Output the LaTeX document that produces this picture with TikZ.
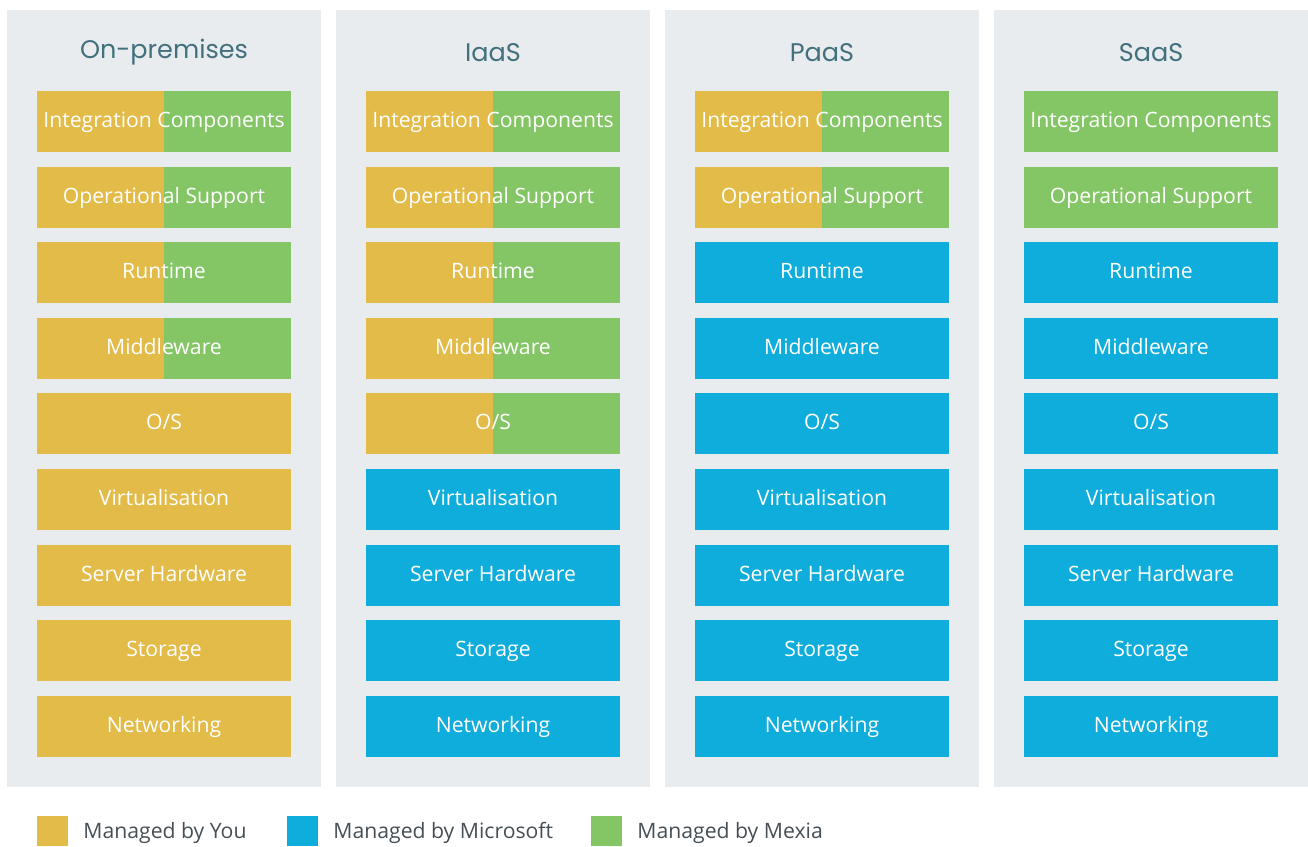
\documentclass[tikz,border=0pt]{standalone}
\usepackage{fontspec}
\setmainfont{Open Sans}
\newfontfamily\titlefont{Poppins}
\usepackage{tikz}
\usetikzlibrary{positioning}

\definecolor{youyellow}{HTML}{E2BB48}
\definecolor{msblue}{HTML}{0EADDB}
\definecolor{mexiagreen}{HTML}{84C666}
\definecolor{colbg}{HTML}{E8ECEF}
\definecolor{titleteal}{HTML}{42707D}
\definecolor{legendgrey}{HTML}{454F55}

\begin{document}
\begin{tikzpicture}[x=1pt, y=1pt, node distance=75.6pt]
        \tikzstyle{column} = [rectangle, fill=colbg, minimum width=314pt, minimum height=777pt, inner sep=0pt]
        \tikzstyle{heading} = [text=titleteal, font=\titlefont\fontsize{25.5}{30}\selectfont]
        \tikzstyle{layer} = [rectangle, text=white, minimum width=254pt, minimum height=61pt, inner sep=0pt, text height=16pt, text depth=4pt, font=\fontsize{21.2}{25}\selectfont]
        \tikzstyle{you} = [layer, fill=youyellow]
        \tikzstyle{ms} = [layer, fill=msblue]
        \tikzstyle{mexia} = [layer, fill=mexiagreen]
        \tikzstyle{shared} = [you, path picture={\fill[mexiagreen] (path picture bounding box.north) rectangle (path picture bounding box.south east);}]
        \tikzstyle{key} = [rectangle, minimum width=31pt, minimum height=30pt, inner sep=0pt]
        \tikzstyle{keytext} = [text=legendgrey, anchor=west, inner sep=0pt, text height=16pt, text depth=5pt, font=\fontsize{21.2}{25}\selectfont]

    \useasboundingbox (0,0) rectangle (1308,-846);

    % column backgrounds
    \node [column] (onprem_bg) at (164,-398.5) {};
    \node [column] (iaas_bg) at (493,-398.5) {};
    \node [column] (paas_bg) at (822,-398.5) {};
    \node [column] (saas_bg) at (1151,-398.5) {};

    \node [heading] (onprem_title) at (164,-52.5) {On-premises};
    \node [heading] (iaas_title) at (493,-52.5) {IaaS};
    \node [heading] (paas_title) at (822,-52.5) {PaaS};
    \node [heading] (saas_title) at (1151,-52.5) {SaaS};

    % On-premises
    \node [shared] (onprem_integration) at (164,-121.5) {Integration Components};
    \node [shared, below of=onprem_integration] (onprem_support) {Operational Support};
    \node [shared, below of=onprem_support] (onprem_runtime) {Runtime};
    \node [shared, below of=onprem_runtime] (onprem_middleware) {Middleware};
    \node [you, below of=onprem_middleware] (onprem_os) {O/S};
    \node [you, below of=onprem_os] (onprem_virt) {Virtualisation};
    \node [you, below of=onprem_virt] (onprem_server) {Server Hardware};
    \node [you, below of=onprem_server] (onprem_storage) {Storage};
    \node [you, below of=onprem_storage] (onprem_network) {Networking};

    % IaaS
    \node [shared] (iaas_integration) at (493,-121.5) {Integration Components};
    \node [shared, below of=iaas_integration] (iaas_support) {Operational Support};
    \node [shared, below of=iaas_support] (iaas_runtime) {Runtime};
    \node [shared, below of=iaas_runtime] (iaas_middleware) {Middleware};
    \node [shared, below of=iaas_middleware] (iaas_os) {O/S};
    \node [ms, below of=iaas_os] (iaas_virt) {Virtualisation};
    \node [ms, below of=iaas_virt] (iaas_server) {Server Hardware};
    \node [ms, below of=iaas_server] (iaas_storage) {Storage};
    \node [ms, below of=iaas_storage] (iaas_network) {Networking};

    % PaaS
    \node [shared] (paas_integration) at (822,-121.5) {Integration Components};
    \node [shared, below of=paas_integration] (paas_support) {Operational Support};
    \node [ms, below of=paas_support] (paas_runtime) {Runtime};
    \node [ms, below of=paas_runtime] (paas_middleware) {Middleware};
    \node [ms, below of=paas_middleware] (paas_os) {O/S};
    \node [ms, below of=paas_os] (paas_virt) {Virtualisation};
    \node [ms, below of=paas_virt] (paas_server) {Server Hardware};
    \node [ms, below of=paas_server] (paas_storage) {Storage};
    \node [ms, below of=paas_storage] (paas_network) {Networking};

    % SaaS
    \node [mexia] (saas_integration) at (1151,-121.5) {Integration Components};
    \node [mexia, below of=saas_integration] (saas_support) {Operational Support};
    \node [ms, below of=saas_support] (saas_runtime) {Runtime};
    \node [ms, below of=saas_runtime] (saas_middleware) {Middleware};
    \node [ms, below of=saas_middleware] (saas_os) {O/S};
    \node [ms, below of=saas_os] (saas_virt) {Virtualisation};
    \node [ms, below of=saas_virt] (saas_server) {Server Hardware};
    \node [ms, below of=saas_server] (saas_storage) {Storage};
    \node [ms, below of=saas_storage] (saas_network) {Networking};

    % legend
    \node [key, fill=youyellow] (you_key) at (52.5,-831) {};
    \node [keytext, right=15pt of you_key, yshift=-2pt] (you_text) {Managed by You};
    \node [key, fill=msblue] (ms_key) at (302.5,-831) {};
    \node [keytext, right=15pt of ms_key, yshift=-2pt] (ms_text) {Managed by Microsoft};
    \node [key, fill=mexiagreen] (mexia_key) at (606.5,-831) {};
    \node [keytext, right=15pt of mexia_key, yshift=-2pt] (mexia_text) {Managed by Mexia};

    \end{tikzpicture}
\end{document}
